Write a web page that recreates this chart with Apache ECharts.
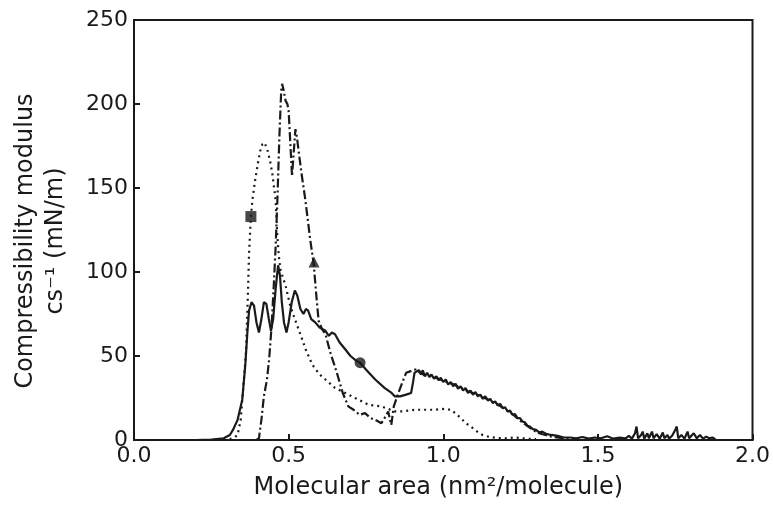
<!DOCTYPE html>
<html><head><meta charset="utf-8">
<script src="https://cdn.jsdelivr.net/npm/echarts@6/dist/echarts.min.js"></script>
<style>html,body{margin:0;padding:0;background:#fff}#c{width:773px;height:508px}</style>
</head><body><div id="c"></div><script>
// x = molecular area (nm2/molecule), y = compressibility modulus (mN/m)
const xTicks = [0, 0.5, 1.0, 1.5, 2.0];
const yTicks = [0, 50, 100, 150, 200, 250];

const solidCurve = [
 [0.20,0],[0.25,0.3],[0.29,1],[0.31,3],[0.32,6],[0.335,12],[0.35,24],[0.36,45],[0.367,65],[0.372,77],
 [0.38,82],[0.388,80],[0.396,70],[0.404,64],[0.412,72],[0.42,82],[0.428,81],[0.436,72],[0.443,65],[0.45,72],
 [0.458,90],[0.466,104],[0.472,98],[0.478,82],[0.485,70],[0.493,64],[0.5,70],[0.51,82],[0.52,89],[0.528,86],
 [0.538,78],[0.548,75],[0.556,78],[0.563,77],[0.573,72],[0.586,70],[0.6,67],[0.619,65],[0.63,62],[0.64,64],
 [0.65,63],[0.665,58],[0.683,54],[0.7,50],[0.72,47],[0.731,46],[0.75,42],[0.78,36],[0.81,31],[0.833,28],
 [0.843,26],[0.86,26],[0.88,27],[0.896,28],[0.902,34],[0.907,40],[0.915,41],[0.922,41.5],[0.928,39],[0.934,41.5],[0.94,38],
 [0.948,40],[0.955,37.5],[0.962,39],[0.97,36.5],[0.978,38],[0.985,35.5],[0.992,37],[1.0,34.5],[1.008,36],[1.016,33],
 [1.024,34.5],[1.032,32],[1.04,33.5],[1.048,30.5],[1.056,32],[1.064,29.5],[1.072,31],[1.08,28],[1.088,29.5],[1.096,27],
 [1.104,28.5],[1.112,26],[1.12,27],[1.128,24.5],[1.136,26],[1.144,23.5],[1.152,24.5],[1.16,22],[1.168,23],[1.176,20.5],
 [1.184,21.5],[1.192,19],[1.2,19.5],[1.208,17],[1.216,17.5],[1.224,15],[1.232,15.5],[1.24,13],[1.248,13],[1.256,11],
 [1.264,10.5],[1.272,8.5],[1.28,8],[1.29,6.5],[1.3,6],[1.31,4.5],[1.32,5],[1.335,3.5],[1.35,3],[1.37,2.5],
 [1.39,1.5],[1.41,1.5],[1.43,1],[1.45,1.8],[1.47,0.8],[1.49,1.5],[1.51,1],[1.53,2.2],[1.55,0.8],[1.57,1.4],
 [1.59,1],[1.6,2.5],[1.61,0.8],[1.62,4],[1.625,8],[1.63,1],[1.64,3],[1.645,5],[1.65,0.8],[1.66,4],
 [1.665,1],[1.675,5],[1.68,1],[1.69,3.5],[1.7,0.8],[1.71,4.5],[1.715,1],[1.725,3],[1.73,0.8],[1.74,2.5],
 [1.75,6],[1.755,8],[1.76,1],[1.77,3],[1.78,0.8],[1.79,5],[1.795,1],[1.81,4],[1.82,1],[1.83,3],
 [1.84,0.8],[1.85,2],[1.86,1],[1.87,1.5],[1.88,0.5]
];

const dashDotCurve = [
 [0.395,0],[0.404,1],[0.412,12],[0.42,26],[0.43,36],[0.437,48],[0.445,68],[0.452,92],[0.458,115],[0.464,145],
 [0.47,180],[0.476,208],[0.479,212],[0.484,208],[0.49,202],[0.496,200],[0.5,196],[0.506,175],[0.511,157],[0.516,170],
 [0.522,185],[0.527,180],[0.533,171],[0.543,157],[0.554,143],[0.562,131],[0.57,119],[0.581,105],[0.59,85],[0.597,71],
 [0.608,66],[0.619,63],[0.635,52],[0.656,40],[0.675,28],[0.693,20],[0.71,18],[0.73,15],[0.747,16],[0.765,13],
 [0.78,12],[0.8,10],[0.81,13],[0.822,17],[0.828,12],[0.832,9],[0.84,20],[0.855,28],[0.865,33],[0.88,40],
 [0.895,41],[0.91,42],[0.925,40],[0.94,38.5],[0.96,38],[0.975,37],[0.99,36],[1.005,35],[1.02,34],[1.035,33],[1.05,31.5],
 [1.065,30.5],[1.08,29],[1.095,28],[1.11,27],[1.125,25.5],[1.14,24.5],[1.155,23],[1.17,22],[1.185,20],[1.2,18.5],
 [1.215,16.5],[1.23,14.5],[1.245,12],[1.26,10],[1.275,8],[1.29,6],[1.31,4],[1.33,3],[1.35,2],[1.38,1.2],[1.41,0.8]
];

const dottedCurve = [
 [0.29,0],[0.31,0.5],[0.325,1.5],[0.335,3],[0.345,12],[0.355,35],[0.362,52],[0.368,85],[0.372,111],[0.378,133],
 [0.383,143],[0.392,155],[0.4,164],[0.408,172],[0.415,176],[0.422,177],[0.431,173],[0.44,166],[0.447,159],[0.453,150],
 [0.458,143],[0.463,123],[0.468,110],[0.474,101],[0.49,92],[0.505,80],[0.522,71],[0.54,62],[0.555,54],[0.576,45],
 [0.6,39],[0.619,36],[0.65,31],[0.683,28],[0.715,25],[0.758,21],[0.8,20],[0.843,17],[0.865,17],[0.91,18],
 [0.94,18],[0.971,18],[0.995,18.5],[1.025,18],[1.045,15],[1.057,13],[1.073,10],[1.089,8],[1.11,5],[1.127,3],
 [1.15,1.8],[1.175,1.2],[1.2,1],[1.23,1.5],[1.27,0.8],[1.3,0.5]
];

const circleMark = [[0.731,46]];
const triangleMark = [[0.582,106]];
const squareMark = [[0.378,133]];

const FONT = 'DejaVu Sans';
const INK = '#1a1a1a';
const chart = echarts.init(document.getElementById('c'), null, {renderer:'canvas'});
const lineBase = {type:'line', showSymbol:false, symbol:'none', silent:true, animation:false, z:2};
chart.setOption({
  animation:false,
  backgroundColor:'#fff',
  grid:{left:134, right:16, top:20, bottom:68, show:true, borderColor:INK, borderWidth:2},
  xAxis:{
    type:'value', min:xTicks[0], max:xTicks[xTicks.length-1], interval:0.5,
    name:'Molecular area (nm²/molecule)', nameLocation:'middle', nameGap:36,
    nameTextStyle:{fontFamily:FONT, fontSize:24, color:INK, padding:[0,10,0,0]},
    axisLine:{show:true, lineStyle:{color:INK, width:2}},
    axisTick:{show:true, inside:true, length:6, lineStyle:{color:INK, width:2}},
    splitLine:{show:false},
    axisLabel:{fontFamily:FONT, fontSize:22, color:INK, margin:5, formatter:v=>v.toFixed(1)}
  },
  yAxis:{
    type:'value', min:yTicks[0], max:yTicks[yTicks.length-1], interval:50,
    name:'Compressibility modulus\ncs⁻¹ (mN/m)', nameLocation:'middle', nameGap:63, nameRotate:90,
    nameTextStyle:{fontFamily:FONT, fontSize:24, color:INK, lineHeight:30, padding:[0,22,0,0]},
    axisLine:{show:true, lineStyle:{color:INK, width:2}},
    axisTick:{show:true, inside:true, length:6, lineStyle:{color:INK, width:2}},
    splitLine:{show:false},
    axisLabel:{fontFamily:FONT, fontSize:22, color:INK, margin:6}
  },
  series:[
    Object.assign({}, lineBase, {name:'solid', data:solidCurve, lineStyle:{color:INK, width:2.2}}),
    Object.assign({}, lineBase, {name:'dashdot', data:dashDotCurve, lineStyle:{color:INK, width:2.2, type:[9,3,2,3]}}),
    Object.assign({}, lineBase, {name:'dotted', data:dottedCurve, lineStyle:{color:INK, width:2.2, type:[2,4]}}),
    {type:'scatter', data:circleMark, symbol:'circle', symbolSize:11, itemStyle:{color:INK}, z:5, silent:true},
    {type:'scatter', data:triangleMark, symbol:'triangle', symbolSize:11, itemStyle:{color:INK}, z:5, silent:true},
    {type:'scatter', data:squareMark, symbol:'rect', symbolSize:11, itemStyle:{color:INK}, z:5, silent:true}
  ]
});
</script></body></html>
